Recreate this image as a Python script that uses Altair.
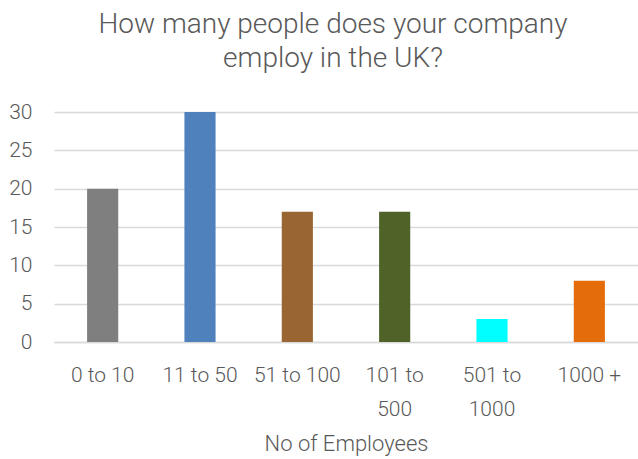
import altair as alt
import pandas as pd

categories = ["0 to 10", "11 to 50", "51 to 100", "101 to 500", "501 to 1000", "1000 +"]
counts = [20, 30, 17, 17, 3, 8]
colors = ["#7F7F7F", "#4F81BD", "#996633", "#4F6228", "#00FFFF", "#E46C0A"]
y_ticks = [0, 5, 10, 15, 20, 25, 30]

df = pd.DataFrame({"cat": categories, "count": counts, "color": colors})

FONT = "Roboto"
TXT = "#595959"

label_expr = ("datum.label == '101 to 500' ? ['101 to', '500'] : "
              "datum.label == '501 to 1000' ? ['501 to', '1000'] : datum.label")

chart = alt.Chart(df).mark_bar().encode(
    x=alt.X("cat:N", sort=categories,
            scale=alt.Scale(paddingInner=0.68, paddingOuter=0.34),
            axis=alt.Axis(title="No of Employees", labelAngle=0, labelExpr=label_expr,
                          labelFontSize=21, labelColor=TXT, labelFont=FONT,
                          labelFontWeight=300,
                          labelPadding=22, labelLineHeight=34, ticks=False, grid=False,
                          domainColor="#D9D9D9", domainWidth=1.5,
                          titleFont=FONT, titleFontSize=22, titleColor=TXT,
                          titleFontWeight=300, titlePadding=14)),
    y=alt.Y("count:Q", scale=alt.Scale(domain=[0, 30]),
            axis=alt.Axis(title=None, values=y_ticks, ticks=False, domain=False,
                          labelFontSize=21, labelColor=TXT, labelFont=FONT,
                          labelFontWeight=300,
                          labelPadding=22, gridColor="#D9D9D9", gridWidth=1.5)),
    color=alt.Color("color:N", scale=None, legend=None),
).properties(
    width=584, height=230,
    background="white",
    padding={"left": 54, "top": 112, "right": 0, "bottom": 117},
    autosize=alt.AutoSizeParams(type="none"),
    title=alt.TitleParams(text=["How many people does your company", "employ in the UK?"],
                          font=FONT, fontSize=28, color=TXT, fontWeight=300,
                          anchor="middle", dx=-13, offset=28, lineHeight=34),
).configure_view(strokeWidth=0, stroke="transparent")

chart.save("out.html", embed_options={"renderer": "svg", "actions": False})
